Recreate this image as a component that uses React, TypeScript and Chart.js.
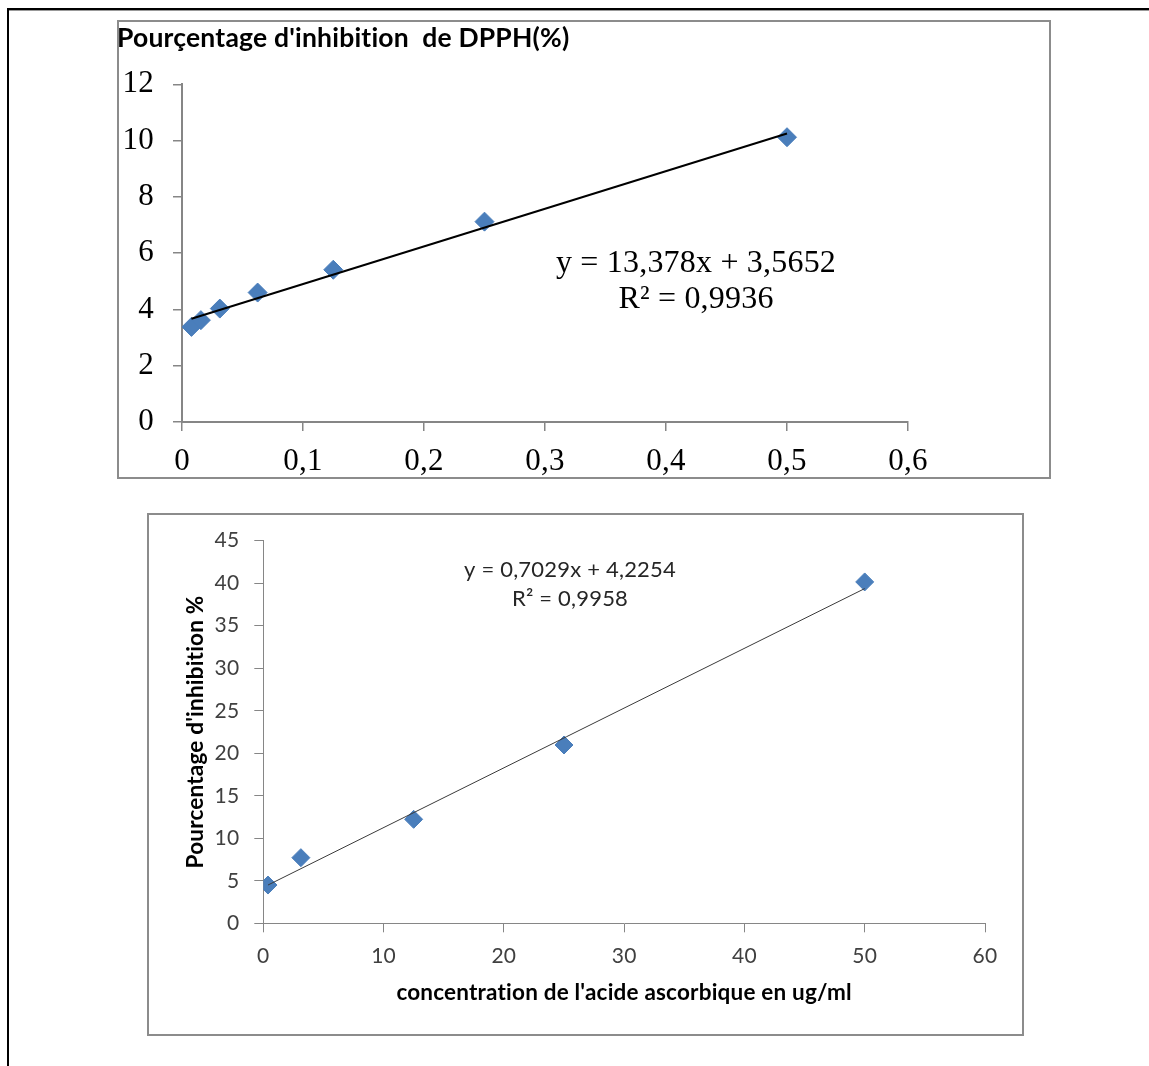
import { useEffect, useRef } from "react";
import { Chart, registerables } from "chart.js";

Chart.register(...registerables);

// ---------- Chart 1: DPPH ----------
const dpphConc = [0.0078, 0.0156, 0.03125, 0.0625, 0.125, 0.25, 0.5];
const dpphInhib = [3.38, 3.62, 4.03, 4.6, 5.41, 7.12, 10.12];
const dpphTrendX = [0.0078, 0.5];
const dpphTrendY = [3.67, 10.25];
const dpphTitle = "Pourçentage d'inhibition  de DPPH(%)";
const dpphEquation = ["y = 13,378x + 3,5652", "R² = 0,9936"];

// ---------- Chart 2: acide ascorbique ----------
const ascConc = [0.39, 3.125, 12.5, 25, 50];
const ascInhib = [4.5, 7.72, 12.23, 20.97, 40.15];
const ascTrendX = [0.39, 50];
const ascTrendY = [4.5, 39.37];
const ascYTitle = "Pourcentage d'inhibition %";
const ascXTitle = "concentration de l'acide ascorbique en ug/ml";
const ascEquation = ["y = 0,7029x + 4,2254", "R² = 0,9958"];

const BLUE = "#4a7ebb";
const AXIS = "#868686";

type TextItem = { text: string; x: number; y: number; font: string; color: string };

// avoids ligatures such as "ti" in Lato
const noLigatures = {
  id: "noLigatures",
  beforeDraw(chart: any) {
    try {
      chart.ctx.letterSpacing = "0.2px";
    } catch (e) {
      /* ignore */
    }
  },
};

function makeTextPlugin(items: TextItem[]) {
  return {
    id: "freeText",
    afterDraw(chart: any) {
      const ctx = chart.ctx;
      ctx.save();
      ctx.textAlign = "center";
      ctx.textBaseline = "alphabetic";
      for (const t of items) {
        ctx.font = t.font;
        ctx.fillStyle = t.color;
        ctx.fillText(t.text, t.x, t.y);
      }
      ctx.restore();
    },
  };
}

const comma = (v: number, d: number) => String(+Number(v).toFixed(d)).replace(".", ",");

function dpphConfig(): any {
  const serif = "'Liberation Serif', 'Times New Roman', serif";
  return {
    type: "scatter",
    data: {
      datasets: [
        {
          data: dpphTrendX.map((x, i) => ({ x, y: dpphTrendY[i] })),
          showLine: true,
          borderColor: "#000",
          borderWidth: 2,
          pointRadius: 0,
          fill: false,
        },
        {
          data: dpphConc.map((x, i) => ({ x, y: dpphInhib[i] })),
          pointStyle: "rectRot",
          pointRadius: 9.5,
          backgroundColor: BLUE,
          borderColor: BLUE,
          borderWidth: 1,
        },
      ],
    },
    options: {
      responsive: false,
      animation: false,
      events: [],
      layout: { padding: { left: 0, top: 0, right: 143, bottom: 0 } },
      plugins: {
        legend: { display: false },
        tooltip: { enabled: false },
        title: {
          display: true,
          text: dpphTitle,
          align: "start",
          color: "#000",
          font: { family: "Lato", weight: "bold", size: 26.5, lineHeight: 1.2 },
          padding: { top: 2.6, bottom: 29.9 },
        },
      },
      scales: {
        x: {
          type: "linear",
          min: 0,
          max: 0.6,
          afterFit: (s: any) => {
            s.height = 57;
          },
          ticks: {
            stepSize: 0.1,
            callback: (v: number) => comma(v, 1),
            font: { family: serif, size: 31 },
            color: "#000",
            padding: 12,
            maxRotation: 0,
          },
          grid: { drawOnChartArea: false, tickLength: 9, color: AXIS, lineWidth: 1.5 },
          border: { color: AXIS, width: 2 },
        },
        y: {
          min: 0,
          max: 12,
          afterFit: (s: any) => {
            s.width = 65;
          },
          ticks: {
            stepSize: 2,
            callback: (v: number) => comma(v, 0),
            font: { family: serif, size: 31 },
            color: "#000",
            padding: 19,
          },
          grid: { drawOnChartArea: false, tickLength: 9, color: AXIS, lineWidth: 1.5 },
          border: { color: AXIS, width: 2 },
        },
      },
    },
    plugins: [
      noLigatures,
      makeTextPlugin([
        { text: dpphEquation[0], x: 579, y: 251.7, font: `32px ${serif}`, color: "#000" },
        { text: dpphEquation[1], x: 579, y: 287.5, font: `32px ${serif}`, color: "#000" },
      ]),
    ],
  };
}

function ascConfig(): any {
  const sans = "Lato, 'Open Sans', sans-serif";
  return {
    type: "scatter",
    data: {
      datasets: [
        {
          data: ascTrendX.map((x, i) => ({ x, y: ascTrendY[i] })),
          showLine: true,
          borderColor: "#3a3a3a",
          borderWidth: 1,
          pointRadius: 0,
          fill: false,
        },
        {
          data: ascConc.map((x, i) => ({ x, y: ascInhib[i] })),
          pointStyle: "rectRot",
          pointRadius: 9,
          backgroundColor: BLUE,
          borderColor: BLUE,
          borderWidth: 1,
        },
      ],
    },
    options: {
      responsive: false,
      animation: false,
      events: [],
      layout: { padding: { left: 0, top: 27.7, right: 39, bottom: 0 } },
      plugins: {
        legend: { display: false },
        tooltip: { enabled: false },
      },
      scales: {
        x: {
          type: "linear",
          min: 0,
          max: 60,
          afterFit: (s: any) => {
            s.height = 112.7;
          },
          ticks: {
            stepSize: 10,
            font: { family: sans, size: 21 },
            color: "#404040",
            padding: 11,
            maxRotation: 0,
          },
          title: {
            display: true,
            text: ascXTitle,
            color: "#000",
            font: { family: sans, weight: "bold", size: 22.5, lineHeight: 1.2 },
            padding: { top: 0, bottom: 30 },
          },
          grid: { drawOnChartArea: false, tickLength: 9, color: AXIS, lineWidth: 1 },
          border: { color: AXIS, width: 1 },
        },
        y: {
          min: 0,
          max: 45,
          afterFit: (s: any) => {
            s.width = 116.3;
          },
          ticks: {
            stepSize: 5,
            font: { family: sans, size: 21 },
            color: "#404040",
            padding: 15,
          },
          title: {
            display: true,
            text: ascYTitle,
            color: "#000",
            font: { family: sans, weight: "bold", size: 22.5, lineHeight: 1.2 },
            padding: { top: 35.5, bottom: 0 },
          },
          grid: { drawOnChartArea: false, tickLength: 9, color: AXIS, lineWidth: 1 },
          border: { color: AXIS, width: 1 },
        },
      },
    },
    plugins: [
      noLigatures,
      makeTextPlugin([
        { text: ascEquation[0], x: 423, y: 64, font: `22px ${sans}`, color: "#262626" },
        { text: ascEquation[1], x: 423, y: 93, font: `22px ${sans}`, color: "#262626" },
      ]),
    ],
  };
}

function ChartBox(props: { left: number; top: number; width: number; height: number; config: () => any }) {
  const ref = useRef<HTMLCanvasElement | null>(null);
  useEffect(() => {
    const chart = new Chart(ref.current as HTMLCanvasElement, props.config());
    return () => chart.destroy();
  }, []);
  const { left, top, width, height } = props;
  return (
    <>
      <div
        style={{
          position: "absolute",
          left,
          top,
          width,
          height,
          boxSizing: "border-box",
          border: "2px solid #8c8c8c",
          background: "#fff",
        }}
      />
      <canvas
        ref={ref}
        width={width}
        height={height}
        style={{ position: "absolute", left, top, width, height }}
      />
    </>
  );
}

export default function App() {
  return (
    <div style={{ position: "absolute", left: 0, top: 0, width: 1149, height: 1066, background: "#fff", overflow: "hidden" }}>
      <div style={{ position: "absolute", left: 7, top: 8, width: 1142, height: 0, borderTop: "2px solid #000", boxShadow: "0 1px 0 #999" }} />
      <div style={{ position: "absolute", left: 7, top: 8, width: 0, height: 1058, borderLeft: "2px solid #000" }} />
      <ChartBox left={117} top={20} width={934} height={459} config={dpphConfig} />
      <ChartBox left={147} top={513} width={877} height={523} config={ascConfig} />
    </div>
  );
}
